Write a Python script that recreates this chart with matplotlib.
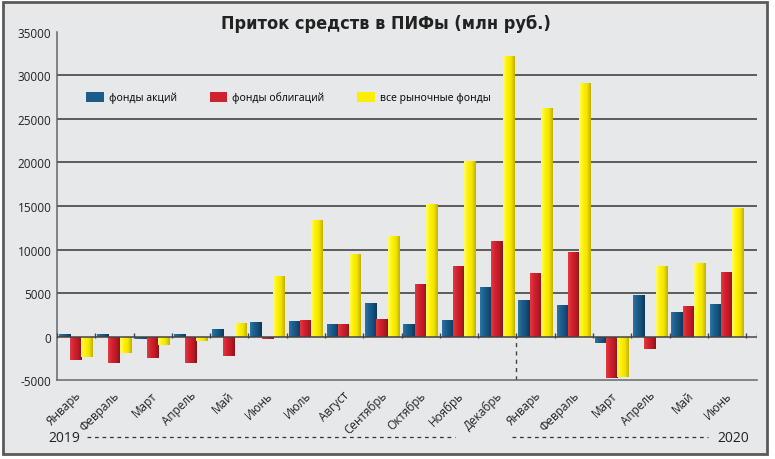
import numpy as np
import matplotlib
matplotlib.use('Agg')
import matplotlib.pyplot as plt
from matplotlib import font_manager
from matplotlib.colors import LinearSegmentedColormap
from matplotlib.patches import Rectangle, Patch
import matplotlib.transforms as mtransforms

# данные (млн руб.)
months = ['Январь', 'Февраль', 'Март', 'Апрель', 'Май', 'Июнь', 'Июль', 'Август',
          'Сентябрь', 'Октябрь', 'Ноябрь', 'Декабрь',
          'Январь', 'Февраль', 'Март', 'Апрель', 'Май', 'Июнь']
stocks = [250, 250, -250, 250, 850, 1650, 1800, 1400, 3900, 1400, 1900, 5700,
          4200, 3650, -700, 4800, 2800, 3700]
bonds = [-2700, -3000, -2500, -3000, -2200, -300, 1950, 1400, 2000, 6000, 8100, 11000,
         7300, 9700, -4800, -1400, 3500, 7400]
all_funds = [-2300, -1900, -1000, -500, 1500, 6900, 13400, 9500, 11500, 15200, 20200, 32200,
             26300, 29100, -4600, 8100, 8400, 14800]
series_names = ['фонды акций', 'фонды облигаций', 'все рыночные фонды']
yticks = [-5000, 0, 5000, 10000, 15000, 20000, 25000, 30000, 35000]

# шрифт
names = {f.name for f in font_manager.fontManager.ttflist}
narrow = 'Liberation Sans Narrow' if 'Liberation Sans Narrow' in names else 'DejaVu Sans'
plt.rcParams['font.family'] = ['Open Sans', 'DejaVu Sans']

bg = '#e6e8e9'
line_c = '#444444'

fig = plt.figure(figsize=(7.75, 4.6), dpi=100)
fig.patch.set_facecolor('white')
frame = Rectangle((0.004, 0.011), 0.986, 0.982, transform=fig.transFigure,
                  facecolor=bg, edgecolor='#5a5a5a', lw=2, zorder=-10)
fig.add_artist(frame)

ax = fig.add_axes([0.0735, 0.1717, 0.903, 0.7566])
ax.set_facecolor('none')

x = np.arange(len(months))
w = 0.295
cmaps = [
    LinearSegmentedColormap.from_list('b', ['#2b75a6', '#1d5f8d', '#15507a', '#0c3656']),
    LinearSegmentedColormap.from_list('r', ['#e23a44', '#d2222e', '#bd1a26', '#8e121b']),
    LinearSegmentedColormap.from_list('y', ['#fffa70', '#fff200', '#f2e400', '#c2b000']),
]
solid = ['#1b5c8a', '#cf2230', '#fbee00']

grad = np.linspace(0, 1, 64).reshape(1, -1)
for k, vals in enumerate([stocks, bonds, all_funds]):
    bars = ax.bar(x + 0.05 + w * k, vals, width=w, align='edge',
                  color=solid[k], edgecolor='none', zorder=3)
    for b in bars:
        bx, by = b.get_xy()
        im = ax.imshow(grad, extent=(bx, bx + b.get_width(), by, by + b.get_height()),
                       cmap=cmaps[k], aspect='auto', interpolation='bilinear', zorder=3.5)
        im.set_clip_path(b)

ax.set_xlim(0, 18.28)
ax.set_ylim(-5000, 35000)

# сетка
for yv in yticks[2:-1]:
    ax.axhline(yv, color=line_c, lw=1.2, zorder=1)
ax.axhline(0, color=line_c, lw=1.1, zorder=4)
ax.vlines(np.arange(0, 19), -120, 450, color=line_c, lw=1, zorder=4)
ax.vlines([18.28], -120, 450, color=line_c, lw=1, zorder=4)
ax.vlines([12], -5000, 0, color=line_c, lw=1, linestyles=(0, (3, 3)), zorder=2)

for s in ['top', 'right']:
    ax.spines[s].set_visible(False)
for s in ['left', 'bottom']:
    ax.spines[s].set_color('#666666')
    ax.spines[s].set_linewidth(1.1)

ax.set_yticks(yticks)
ax.set_yticklabels([str(v) for v in yticks], fontsize=8.5, color='#222222')
ax.set_xticks(x + 0.7)
ax.set_xticklabels(months, rotation=45, ha='right', fontsize=8.5, color='#222222')
ax.tick_params(axis='both', length=0)
ax.tick_params(axis='x', pad=6)
ax.tick_params(axis='y', pad=4)

# годы
tr = mtransforms.blended_transform_factory(ax.transData, ax.transAxes)
ax.plot([0.78, 10.39], [-0.164, -0.164], transform=tr, clip_on=False,
        color='#333333', lw=0.9, ls=(0, (3, 3)))
ax.plot([11.88, 17.0], [-0.164, -0.164], transform=tr, clip_on=False,
        color='#333333', lw=0.9, ls=(0, (3, 3)))
ax.text(0.6, -0.164, '2019', transform=tr, ha='right', va='center', fontsize=10, color='#222222')
ax.text(17.26, -0.164, '2020', transform=tr, ha='left', va='center', fontsize=10, color='#222222')

# легенда
handles = [Patch(facecolor=solid[k], edgecolor='none') for k in range(3)]
ax.legend(handles, series_names, ncol=3, frameon=False, loc='center left',
          bbox_to_anchor=(0.036, 0.812), fontsize=7.5, handlelength=1.7, handleheight=1.15,
          handletextpad=0.5, columnspacing=3.1, borderaxespad=0)

fig.text(0.498, 0.948, 'Приток средств в ПИФы (млн руб.)', ha='center', va='center',
         fontsize=13, fontweight='bold', fontstretch='condensed',
         family=[narrow, 'DejaVu Sans'], color='#222222')

fig.savefig('out.png', dpi=100)
